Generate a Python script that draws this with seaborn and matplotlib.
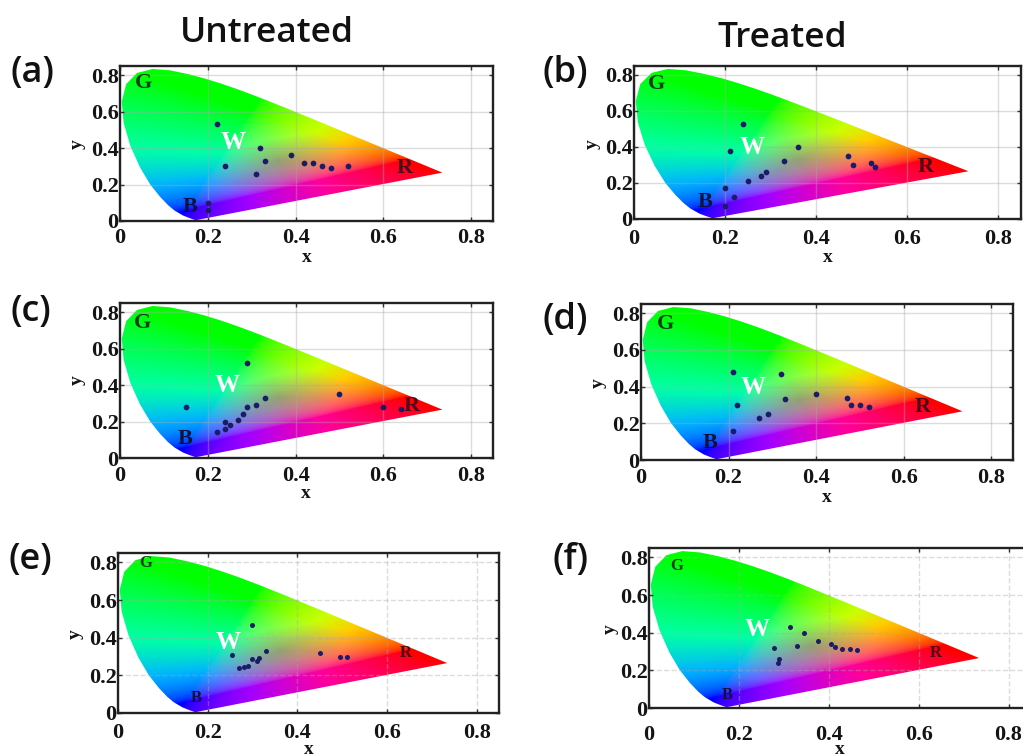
import numpy as np
import matplotlib
matplotlib.use("Agg")
import matplotlib.pyplot as plt
import pandas as pd
import seaborn as sns
from matplotlib.patches import Polygon

# spectral locus of the diagram, blue end round to red end
locus_x = [.1741, .1714, .1644, .1566, .1440, .1241, .1096, .0913, .0687, .0454, .0235, .0082,
           .0039, .0139, .0389, .0743, .1142, .1547, .1929, .2296, .2658, .3016, .3373, .3731,
           .4441, .5125, .5752, .6270, .6658, .6915, .7190, .7347]
locus_y = [.0050, .0051, .0109, .0177, .0297, .0578, .0868, .1327, .2007, .2950, .4127, .5384,
           .6548, .7502, .8120, .8338, .8262, .8059, .7816, .7543, .7243, .6923, .6589, .6245,
           .5547, .4866, .4242, .3725, .3340, .3083, .2809, .2653]

a_x = [.22, .32, .33, .24, .31, .39, .42, .44, .46, .48, .52, .20, .20]
a_y = [.53, .40, .33, .30, .26, .36, .32, .32, .30, .29, .30, .10, .06]
b_x = [.24, .21, .36, .33, .29, .28, .25, .20, .22, .20, .47, .48, .52, .53]
b_y = [.53, .38, .40, .325, .26, .24, .21, .17, .12, .07, .35, .30, .31, .29]
c_x = [.29, .15, .33, .31, .29, .28, .27, .25, .24, .24, .22, .50, .60, .64]
c_y = [.52, .28, .33, .29, .28, .24, .21, .18, .20, .16, .14, .35, .28, .27]
d_x = [.21, .32, .22, .33, .40, .47, .48, .50, .52, .29, .27, .21]
d_y = [.48, .47, .30, .33, .36, .34, .30, .30, .29, .25, .23, .16]
e_x = [.30, .255, .33, .45, .495, .51, .27, .28, .29, .30, .31, .315]
e_y = [.47, .31, .33, .32, .30, .30, .24, .245, .25, .285, .275, .29]
f_x = [.314, .344, .376, .33, .278, .404, .413, .43, .447, .463, .29, .288]
f_y = [.43, .40, .357, .33, .318, .34, .322, .315, .313, .31, .26, .24]

ticks = [0, .2, .4, .6, .8]
tick_labels = ["0", "0.2", "0.4", "0.6", "0.8"]

W, H = 1023, 755
DOT = "#1c1c66"
INK = "#141414"

panels = [
    dict(name="(a)", px=a_x, py=a_y, box=(120, 493, 66, 221), letter=16, dash="-", s=17, pad=5, lab=(11, 73),
         xl=(307, 257), yl=(77, 144), g=(.053, .756), w=(.258, .43), r=(.648, .288), b=(.16, .077)),
    dict(name="(b)", px=b_x, py=b_y, box=(634, 1021, 66, 219), letter=16, dash="-", s=17, pad=7, lab=(543, 73),
         xl=(828, 257), yl=(592, 144), g=(.05, .75), w=(.26, .40), r=(.64, .29), b=(.156, .097)),
    dict(name="(c)", px=c_x, py=c_y, box=(120, 493, 303, 458), letter=16, dash="-", s=17, pad=6, lab=(11, 312),
         xl=(306, 494), yl=(77, 380), g=(.052, .74), w=(.245, .395), r=(.664, .285), b=(.148, .104)),
    dict(name="(d)", px=d_x, py=d_y, box=(641, 1013, 304, 460), letter=16, dash="-", s=17, pad=6, lab=(543, 320),
         xl=(827, 497), yl=(598, 383), g=(.056, .74), w=(.256, .396), r=(.643, .29), b=(.158, .09)),
    dict(name="(e)", px=e_x, py=e_y, box=(118, 499, 553, 713), letter=12, dash="--", s=13, pad=7, lab=(8, 560),
         xl=(309, 750), yl=(75, 634), g=(.061, .796), w=(.245, .374), r=(.642, .317), b=(.174, .08)),
    dict(name="(f)", px=f_x, py=f_y, box=(649, 1031, 548, 708), letter=12, dash="--", s=13, pad=12, lab=(552, 560),
         xl=(840, 750), yl=(610, 629), g=(.061, .752), w=(.24, .416), r=(.637, .292), b=(.175, .067)),
]


def chroma_image(n=500):
    # mix of the three sRGB primaries at each chromaticity, clipped at the gamut triangle
    gx, gy = np.meshgrid(np.linspace(0, .85, n), np.linspace(0, .85, n))
    prim = np.array([[.64, .30, .15], [.33, .60, .06], [1, 1, 1]])
    pts = np.stack([gx, gy, np.ones_like(gx)], axis=-1)
    rgb = np.clip(pts @ np.linalg.inv(prim).T, 0, None)
    by_sum = rgb / rgb.sum(axis=-1, keepdims=True)
    sat = 1 - rgb.min(axis=-1, keepdims=True) / rgb.max(axis=-1, keepdims=True)
    out = by_sum ** np.array([.62, .55, .85]) * (1.15 + .2 * sat)
    return np.clip(out, 0, 1)


sns.set_style("white")
plt.rcParams["font.family"] = ["Liberation Serif", "DejaVu Serif"]

fig = plt.figure(figsize=(W / 100, H / 100), dpi=100)
img = chroma_image()

for p in panels:
    left, right, top, bottom = p["box"]
    ax = fig.add_axes([left / W, 1 - bottom / H, (right - left) / W, (bottom - top) / H])
    ax.set_xlim(0, .85)
    ax.set_ylim(0, .85)
    im = ax.imshow(img, origin="lower", extent=(0, .85, 0, .85), aspect="auto", zorder=1)
    im.set_clip_path(Polygon(np.column_stack([locus_x, locus_y]), transform=ax.transData))
    ax.grid(True, color="#a8a8a8", lw=1, ls=p["dash"], alpha=.4, zorder=2)
    ax.set_axisbelow(False)

    sns.scatterplot(data=pd.DataFrame({"x": p["px"], "y": p["py"]}), x="x", y="y", ax=ax, color=DOT,
                    s=p["s"], linewidth=0, zorder=4)

    ax.set_xticks(ticks)
    ax.set_yticks(ticks)
    ax.set_xticklabels(tick_labels, fontsize=16, fontweight="bold", color=INK)
    ax.set_yticklabels(tick_labels, fontsize=16, fontweight="bold", color=INK)
    ax.tick_params(axis="both", direction="in", length=3, width=1, pad=1, color="#333333",
                   top=True, right=True, bottom=True, left=True)
    ax.tick_params(axis="x", pad=p["pad"])
    ax.set_xlabel("x", fontsize=14, fontweight="bold", color=INK, va="center")
    ax.set_ylabel("y", fontsize=14, fontweight="bold", color=INK, va="center")
    ax.xaxis.set_label_coords((p["xl"][0] - left) / (right - left), (bottom - p["xl"][1]) / (bottom - top))
    ax.yaxis.set_label_coords((p["yl"][0] - left) / (right - left), (bottom - p["yl"][1]) / (bottom - top))
    for s in ax.spines.values():
        s.set_linewidth(1.7)
        s.set_color("#222222")
        s.set_zorder(5)

    ax.text(*p["g"], "G", fontsize=p["letter"], fontweight="bold", color="#0b3d12", ha="center", va="center", zorder=5)
    ax.text(*p["w"], "W", fontsize=18, fontweight="bold", color="white", ha="center", va="center", zorder=5)
    ax.text(*p["r"], "R", fontsize=p["letter"], fontweight="bold", color="#4a0a18", ha="center", va="center", zorder=5)
    ax.text(*p["b"], "B", fontsize=p["letter"], fontweight="bold", color="#101040", ha="center", va="center", zorder=5)

    fig.text(p["lab"][0] / W, 1 - p["lab"][1] / H, p["name"], fontsize=26, fontweight="semibold",
             family="Open Sans", color="#111111", ha="left", va="center")

fig.text(267 / W, 1 - 33 / H, "Untreated", fontsize=25.5, fontweight="semibold", family="Open Sans",
         color="#111111", ha="center", va="center")
fig.text(782 / W, 1 - 38 / H, "Treated", fontsize=25.5, fontweight="semibold", family="Open Sans",
         color="#111111", ha="center", va="center")

fig.savefig("out.png", dpi=100)
